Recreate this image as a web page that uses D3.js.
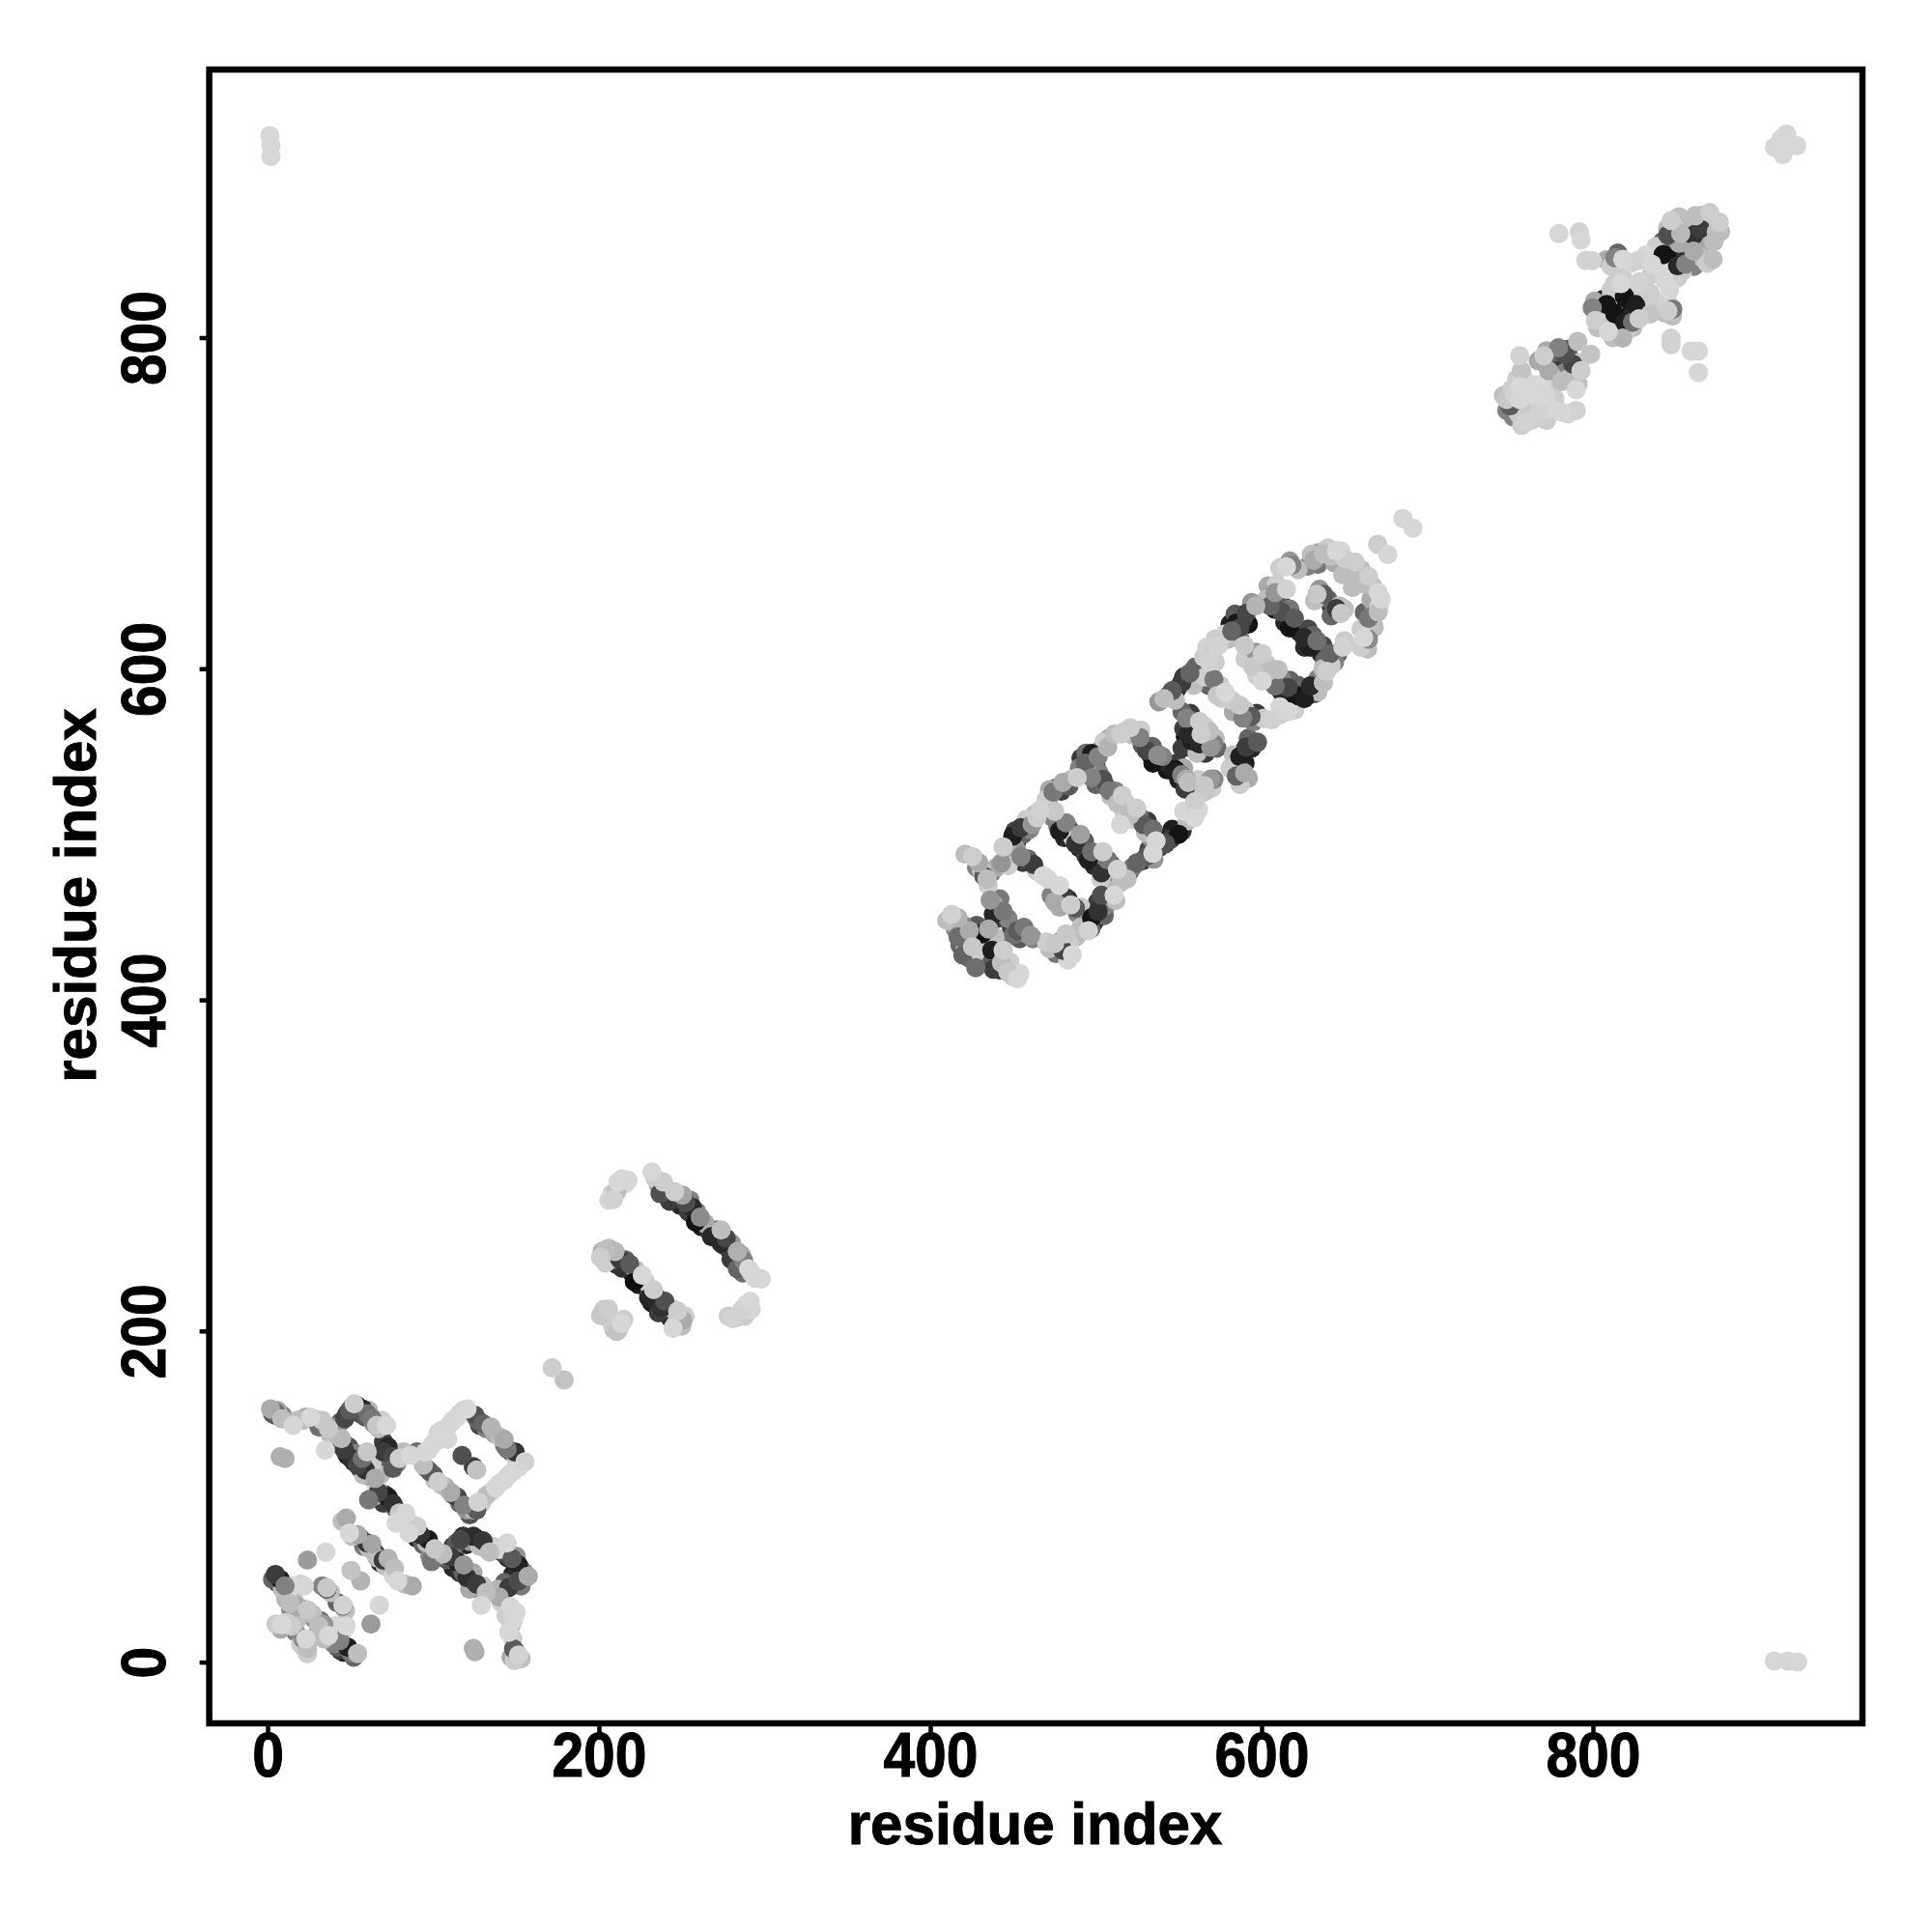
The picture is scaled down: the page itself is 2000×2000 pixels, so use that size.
<!DOCTYPE html>
<html><head><meta charset="utf-8">
<script src="https://cdnjs.cloudflare.com/ajax/libs/d3/7.8.5/d3.min.js"></script>
<style>html,body{margin:0;background:#fff}svg{display:block}</style></head>
<body><div id="chart"></div>
<script>
const xTicks=[0,200,400,600,800], yTicks=[0,200,400,600,800];
const xLabel="residue index", yLabel="residue index";
// rows: residue i, residue j, gray level
const clusterA=[[1.8,153,170],[4.7,151,110],[8.6,147,190],[15.4,143,215],[21.2,146,190],[26,148,215],[33,146,200],[31,142,110],[36.8,141,200],[34.8,128,215],[7.6,124,175],[10.5,123,175],
[46.5,147,70],[49.4,152,90],[52.3,156,205],[57.2,153,40],[60.1,150,110],[63,147,120],[71.8,143,215],[65.9,143,200],[44.6,135,185],[46.5,128,60],[50.4,123,45],[54.3,119,70],[59.1,116,50],[65,111,170],[60.1,127,200],[57.2,123,110],
[72.7,130,40],[69.8,127,60],[75.6,124,70],[75.6,117,90],[79.5,123,205],[86.3,125,215],[90.2,127,110],
[61,98,120],[66.9,102.5,70],[72.7,99.6,25],[75.6,95.7,50],[83.4,90,215],[79.5,90,200],[77.6,84,215],[90.2,82,205],[85.4,78,215],[92.2,77,50],[97,74,25],[100.9,68.4,200],[99,60.7,120],[105.8,65.5,190],
[116.5,74,70],[124.2,76,45],[130,73.3,55],[134,66.5,190],[144.6,72,215],[110.6,63.6,60],[114.5,60.7,30],[118.4,58.7,150],[120.4,51,50],[126.2,47,60],[132,42,190],[129,34.4,215],
[147.6,62.6,90],[151.4,58.7,35],[157.3,51.9,170],[145.6,45,60],[151.4,49,75],[139.8,39.3,170],[146.6,33.4,215],[148.5,25.6,215],[145.6,18,215],[151.4,4.3,210],[148.5,8,90],[124.2,8.2,175],[125.2,6.2,175],
[120.4,153,215],[114.5,148,215],[108.7,142,215],[102.9,138.5,215],[108.7,134.6,215],[99,130.7,215],[95.1,126.8,215],[125.2,149,80],[130,144,100],[134.9,142,180],[142.7,134.6,170],[144.6,128.7,120],[149.5,126.8,50],[155.3,121,210],[145.6,113,215],[137.8,105.4,215],[132,100.5,190],[126.2,91.8,90],[127,96.6,210],[117.4,124.8,80],[126.2,116,195],[124.2,118,60],
[98,115,90],[102.9,109,205],[110.6,102.5,170],[114.5,99.6,70],[118.4,94.7,130],[94,119,190],
[47.5,87,170],[49.4,78,215],[54.3,77,170],[60.1,72,50],[63,71.4,165],[69.8,61.6,60],[72.7,62.6,180],[76.6,56.8,190],[78.6,49,215],[87.3,46,170],
[24.1,61.6,155],[35.2,66.5,215],[50.4,55.4,195],[56.2,49,180],[67.5,34.4,215],[62.4,23,155],
[4.7,52.9,60],[7.6,50,30],[10.5,46,130],[22.2,46,215],[35.8,44,100],[35.8,45,200],[45.5,33.9,90],[45.5,34.4,210],[13.5,35.4,190],[18.3,33.4,170],[24.1,31.5,200],[8.6,22.7,215],[14.4,21.8,205],[24.1,8.2,190],[21.2,14,140],[23.2,14,215],[33.9,22.7,150],[31,21.8,190],[36.8,16,215],[47.5,21.8,215],[43.6,13,130],[48.4,9,30],[54.3,5.2,190]];
const underA=[[3,150,90],[5,149,60],[6,152,170],[9,149,130],[18,146,190],[23,148,170],[28,147,200],[30,145,150],[35,143,170],[38,137,190],[42,142,150],[44,145,100],[48,150,60],[51,154,150],[54,155,50],[56,150,70],[59,148,90],[61,152,180],[64,144,150],[67,141,190],[69,146,205],
[44,131,110],[46,132,70],[48,125,30],[49,130,80],[52,121,40],[53,126,130],[56,117,30],[57,120,90],[58,113,190],[61,118,100],[62,112,150],[63,120,205],[66,106,205],[68,113,190],
[70,133,60],[72,126,40],[74,128,90],[76,121,60],[78,120,130],[73,121,100],[82,127,190],
[64,100,170],[68,98,40],[70,96,60],[71,101,60],[74,97,30],[77,93,110],[80,87,190],[82,84,205],[86,84,215],[88,80,190],[90,75,40],[93,74,60],[94,71,100],[96,72,190],[102,64,190],[98,64,130],
[112,70,60],[114,72,90],[118,76,50],[120,71,40],[122,73,150],[127,74,30],[128,70,190],[132,69,100],[136,70,205],[140,68,215],
[108,62,90],[112,57,40],[113,63,120],[116,54,50],[118,54,100],[123,48,30],[124,54,170],[122,44,170],[128,44,130],[130,46,190],
[142,66,70],[145,63,50],[149,60,40],[150,64,150],[153,56,60],[155,54,130],[148,53,40],[143,48,100],[147,47,70],[153,46,120],[139,44,180],[141,36,205],[144,28,205],[147,22,190],[150,30,215],[148,14,205],[150,6,130],[153,2,190],[147,3,170],[149,1,205],
[118,152,210],[116,150,210],[111,145,215],[105,140,215],[106,136,205],[101,133,205],[97,128,205],[112,146,205],[127,146,100],[128,143,70],[132,141,130],[137,138,170],[140,136,190],[143,131,120],[147,127,70],[150,123,205],[152,118,215],[148,115,215],[143,110,215],[140,108,215],[135,103,215],[129,96,205],[124,92,190],
[96,117,130],[100,113,80],[101,110,190],[105,107,190],[107,106,170],[112,101,100],[116,96,100],[120,92,150],[122,89,80],
[51,76,190],[56,75,120],[58,72,30],[58,70,120],[61,69,190],[65,66,60],[66,63,190],[68,60,40],[71,58,190],[74,57,190],[76,52,215],[83,47,190],[45,85,190],
[3,50,100],[6,48,60],[9,44,190],[12,42,130],[15,46,215],[20,47,205],[33,46,130],[38,42,190],[42,36,100],[47,31,190],[11,38,180],[14,32,130],[16,37,190],[19,28,170],[21,32,130],[27,29,190],[5,23,205],[8,20,170],[11,24,205],[17,18,130],[17,24,190],[22,9,170],[24,5,205],[20,11,205],[28,26,150],[30,17,130],[32,25,120],[34,14,190],[38,19,205],[40,11,130],[42,9,90],[44,7,60],[46,6,30],[50,6,120],[52,3,100],[41,22,215],[45,18,215]];
const clusterB=[[171.8,177.7,205],[179,170.5,195],[217.5,291,215],[211.6,290,215],[208.7,279.4,210],[210.7,284,190],
[232,296,215],[238.9,290,205],[236.9,283,80],[245.7,284,205],[242.7,278.4,60],[250.5,282,165],[252.5,277.5,75],[256.4,274.6,40],[261.2,268.7,140],[258.3,265.8,20],[273.8,261,190],[268,257,40],[276.8,256,70],[273.8,253,40],[283.6,248,175],[279.7,243.4,60],[287.4,242.5,130],[290.4,237.6,215],[283.6,237.6,100],[294.3,231.8,215],[298,231.4,215],
[203.9,249,190],[201,244.4,205],[209.7,248,185],[212.6,243.4,60],[218.5,240.5,90],[221.4,229.8,15],[226.2,233.7,215],[233,225,205],[230,220,40],[239.8,218,80],[237.9,214,50],[247.6,212,205],[244.7,201.6,215],[250.5,206.5,170],
[205.8,213.3,205],[201,209.4,200],[210.7,199.7,195],[213.6,204.5,215],[291.3,218,215],[286.5,213,210],[280.6,207.5,210]];
const underB=[[234,292,205],[236,288,170],[240,286,100],[243,282,170],[247,280,60],[249,276,40],[254,272,60],[255,279,130],[259,272,130],[262,263,30],[264,265,170],[266,261,50],[270,258,40],[271,261,120],[275,252,40],[278,250,60],[280,253,150],[281,247,90],[285,241,50],[286,246,170],[288,239,170],[287,235,110],[292,235,205],
[214,292,215],[212,287,215],[208,283,205],[206,279,215],[216,289,215],
[202,248,170],[206,250,190],[204,241,205],[208,243,120],[211,240,40],[214,238,50],[216,243,100],[220,235,40],[222,237,190],[224,228,30],[228,230,205],[231,223,190],[232,217,30],[235,220,70],[236,211,60],[240,214,90],[243,208,40],[245,213,205],[248,205,120],[246,204,190],[250,203,190],[252,209,205],
[203,213,205],[204,209,190],[208,204,205],[209,201,190],[215,207,205],[212,201,205],[283,208,205],[289,216,215],[288,209,205],[292,213,215],[278,209,205]];
const clusterC=[[412.9,451.6,210],[416.8,449.6,180],[416.8,438,110],[419.7,427,100],[427.5,419.5,110],[431.3,439.9,15],[435.2,442.8,170],[423.6,441.8,170],[425.5,432,200],
[436.2,460.3,150],[444,453.5,120],[438.1,451.6,40],[460.5,438.9,150],[452.7,441.8,90],[456.6,443.8,120],[444,430,205],[437.2,430,30],[438.1,418.5,60],[446.9,416.6,200],[452.7,412.7,215],[443,422.4,190],
[425.5,486.6,205],[429.4,482.7,170],[434.3,473,190],[432.3,474.9,90],[443,482.7,150],[444,492.4,205],[449.8,499,30],[454.7,504,60],[461.5,506,150],[464.4,510,205],[466.3,514.8,210],
[454.7,486.6,130],[462.4,481.7,60],[468.3,474.9,215],[478,469,215],[480.9,462.3,60],[475.1,459.3,170],[487.7,455.4,90],[484.8,457.4,205],
[475.1,434,200],[485.8,427.2,215],[481.9,439.9,200],[480,430,70],[495.5,441.8,210],[497.4,449.6,20],[501.3,453.5,50],[503.3,463.2,80],[511,463.2,215],[514.9,471,190],[518.8,473,190],[524.6,482.7,100],[530.5,486.6,90],[534.4,488.5,215],[542.1,494.3,80],[549.9,500,20],[559.6,510,215],[559.6,519.6,205],[569.3,533.3,150],[565.4,525.5,200],
[475.1,513.8,200],[481.9,507,130],[478,502,30],[490.6,500,160],[487.7,494.3,50],[497.4,489.5,110],[495.5,484.6,30],[504.2,489.5,205],[507.1,484.6,120],[513,478.8,210],[503.3,476.8,50],
[474.1,525.5,120],[483.8,529.3,90],[480,531.3,170],[488.7,534.2,205],[493.5,543,100],[497.4,548.8,30],[501.3,546.9,130],[507.1,552.7,180],[511,560.5,190],[514.9,560.5,205],[520.8,564.4,205],
[497.4,534.2,130],[504.2,533.2,80],[508.1,526.4,120],[515.9,523.5,205],[513,518.7,190],[524.6,515.7,205],[520.8,511.8,190],[514.9,506,215],[528.5,506,90],[534.4,503,110],[536.3,496,215],
[530.5,550.7,70],[537.3,547.8,140],[534.4,543,20],[547,538,30],[551.8,536,130],[555.7,531.3,190],[553.8,527.4,60],[526.6,558.5,130],[569.3,552.7,150],[557.7,556.6,30],[563.5,560.5,205]];
const underC=[[410,448,190],[414,446,170],[415,443,130],[418,433,100],[420,445,130],[422,436,170],[424,425,110],[421,431,190],[428,445,90],[429,437,30],[433,443,40],[430,434,190],[427,428,205],
[438,458,170],[441,456,120],[440,449,60],[442,461,120],[447,449,130],[449,444,60],[454,437,90],[458,440,140],[462,437,130],[450,439,110],
[440,433,70],[441,426,170],[436,424,90],[442,418,60],[445,420,170],[448,423,205],[450,414,205],[454,416,215],[439,438,190],
[421,488,190],[428,480,130],[431,478,205],[435,469,205],[437,477,120],[440,480,170],[446,486,60],[447,490,170],[451,502,70],[452,495,30],[456,500,100],[457,506,190],[460,503,130],[463,512,190],[458,509,205],
[447,481,205],[452,491,150],[456,483,60],[459,485,100],[464,478,205],[471,473,215],[473,463,130],[477,464,60],[478,456,170],[483,461,40],[489,452,130],[491,456,205],
[470,435,205],[472,431,190],[476,428,120],[478,435,130],[483,424,215],[484,434,205],[488,438,190],[491,444,190],[493,451,30],[499,447,50],[497,443,100],[501,459,60],[505,451,100],[507,466,190],[506,457,130],[510,468,130],[512,460,190],[516,475,100],[520,477,70],[522,480,120],[528,484,60],[532,491,70],[535,485,150],[538,492,60],[540,498,40],[545,497,60],[546,503,30],[552,502,50],[555,508,190],[553,514,215],[562,515,215],[564,531,190],[567,530,100],[561,524,190],
[472,517,170],[474,510,130],[477,505,100],[481,498,40],[484,503,70],[486,498,205],[490,492,40],[493,496,90],[494,487,60],[499,481,40],[502,486,150],[506,479,160],[509,482,80],[503,473,205],
[470,521,205],[472,527,170],[476,528,100],[479,526,60],[485,533,190],[490,540,130],[491,546,60],[494,549,110],[500,542,70],[503,551,100],[505,556,205],[508,558,150],[517,562,205],[522,560,190],[527,563,205],
[495,537,170],[500,530,100],[502,537,130],[506,529,60],[509,523,190],[512,526,130],[518,519,205],[517,513,205],[522,509,205],[526,511,110],[531,508,60],[533,498,150],[530,501,190],
[528,554,90],[533,548,30],[534,553,100],[541,544,40],[543,539,20],[548,542,60],[550,533,30],[553,540,170],[557,529,190],
[554,559,20],[552,552,60],[560,555,120],[565,556,190],[561,549,190]];
const clusterD=[[685.3,690.8,215],[691.4,684.9,215],[670,675.2,205],[676.2,669,215],[615,661.6,215],[618.3,662.6,130],[631.5,665.5,170],[637.3,669.4,190],[645.1,671.3,215],[650,666.5,205],[656.4,664.5,205],[649,656.7,190],[664.5,655.8,205],[654.8,649,190],[670.4,646,215],[672.3,642,215],[670.4,634.4,190],[664.5,630.5,120],[661.6,618.8,215],[664.5,617.8,140],
[633.4,645,200],[637.3,645,90],[645.1,636.3,60],[648,633.4,200],[608.2,646,150],[615,648,210],[605.3,638,100],[612,634.4,80],[619.8,630.5,90],[616.9,624.7,20],[625.7,618.8,40],[633.4,616.9,110],[629.5,613,30],[641.2,609,100],[649,613,210],
[596.5,638,180],[590.7,633.4,70],[584.8,627.6,25],[586.8,624.7,70],[582,622.7,100],[574,614,210],[570.3,609,205],[568.3,604.2,210],[589.7,614,200],[596.5,610,150],[600.4,609,205],[594.6,601.3,200],[604.3,598.4,190],[610,599.4,190],[600.4,592.6,215],[608.2,589.6,110],[616,588.7,70],[620.8,583.8,20],[629.5,589.6,40],[625.7,581.9,30],[639.3,598.4,205],[637.3,591.6,190],[616,574,215],[606.2,569.2,210],
[556.7,597.4,100],[551.8,591.6,60],[546,586.7,90],[541.1,581.9,190],[571.2,593.5,120],[578,585.8,215],[573.2,583.8,200],[586.8,578,200],[593.6,571.2,90],[588.7,570.2,130],[554.7,570.2,130],[562.5,568.2,205],[568.3,562.4,190],[555.7,560.5,40],[571.2,554.6,130],[562.5,554.6,40],[597.5,555.6,90],[590.7,552.7,60],[586.8,546.9,30],[589.7,537,170],[584.8,535.2,100],[540.1,546.9,130],[547.9,539,20],[554.7,533.3,170],[571.2,533.3,130],[565.4,529.4,200]];
const underD=[[617,665,150],[611,661,205],[622,660,190],[628,662,130],[630,669,190],[634,670,170],[634,663,120],[640,673,205],[642,668,190],[644,664,170],[648,671,215],[652,660,190],[660,660,190],[658,654,190],[662,651,190],[667,650,190],[671,638,215],[668,637,140],[666,642,170],[662,634,100],[667,630,190],[668,625,190],[660,624,205],[660,613,205],[664,612,190],
[632,641,190],[635,648,150],[640,642,100],[642,638,40],[642,632,100],[647,638,190],[650,636,190],
[609,651,205],[604,650,170],[603,642,190],[608,636,30],[610,641,90],[614,637,60],[617,636,120],[614,628,40],[620,626,30],[623,622,40],[628,624,70],[631,620,100],[626,613,40],[637,614,70],[636,609,40],[638,605,100],[644,604,130],[646,609,100],[650,617,205],
[594,640,150],[592,627,20],[589,630,60],[586,630,40],[584,633,90],[581,627,30],[580,618,190],[578,621,205],[572,618,205],[567,613,210],[565,607,205],[572,604,205],
[587,618,130],[592,610,170],[598,604,190],[590,606,205],[603,603,200],[605,592,190],[597,596,205],[607,595,170],[612,594,130],[612,586,40],[617,593,100],[622,590,100],[618,580,30],[624,587,60],[628,584,20],[632,585,70],[634,594,130],[634,586,190],[637,600,190],[642,602,205],[620,575,205],[611,572,205],[601,570,205],[611,577,215],
[560,601,100],[553,595,60],[549,588,40],[544,584,60],[538,580,150],[548,581,190],[559,590,190],[566,595,205],
[568,590,100],[569,598,120],[575,590,205],[576,582,205],[582,581,205],[583,574,170],[590,575,205],[595,568,130],[597,573,60],
[552,574,100],[557,573,60],[557,566,130],[560,562,205],[553,564,60],[566,565,205],[572,558,190],[573,552,100],[558,552,20],[566,549,60],
[592,558,100],[594,552,40],[589,550,30],[583,548,190],[586,541,170],[590,543,30],[592,534,170],[587,530,205],[581,540,205],
[538,548,100],[543,543,30],[549,543,60],[551,536,120],[557,530,190],[568,531,120],[570,528,205],[562,533,205]];
const clusterE=[[750,758.8,90],[748,762.7,200],[755.8,789,210],[756.8,780,195],[755.8,770.5,215],[764.6,771.5,215],[771.4,764.7,215],[761.7,753,200],[759.7,749,210],[767.5,755,210],[781,755,215],[789.9,756,210],[755.8,762.7,215],[752.9,765.6,210],
[770.4,789,205],[783,790,80],[779.2,793.9,130],[790.8,797.7,190],[798.6,790,195],[773.3,780,170],[781,773.4,190],[792.8,780,205],[787.9,784,70],[789.9,768.6,215],
[779.5,862.9,215],[791.8,863.9,210],[792.8,859,215],[795.7,846.7,210],[799.6,846.4,210],[813.2,848.3,130],[818,847.3,215],[826.8,846.4,210],
[799.6,818,130],[801.5,810.4,205],[808.3,820,20],[813.2,814.3,20],[809.3,803.6,215],[818,799.7,180],[819,809.4,30],[823.9,809.4,110],[834.6,814.3,195],[827.8,811.4,205],[817,832.7,215],[813.2,832.7,205],[819,825,20],[827.8,833.7,210],[834.6,826.9,205],[825.8,820,30],
[835.5,844.4,215],[842.4,850.2,20],[847.2,870.7,205],[845.2,861.9,80],[853,862.9,185],[851.1,843.4,40],[860.8,852.2,170],[872.5,847.3,190],[856,844.4,130],[843.3,834.7,215],[846.2,828.9,215],[848.2,817.2,120],[845.2,816.2,205],[847.2,799.7,210],[847.2,795.8,210],[859.2,791.9,215],[863.7,791.9,215],[863.7,778.9,215],
[861.8,873.6,190],[870.5,875.5,205],[876.3,869.7,205],[864.7,865.8,60],[874.4,863.9,190],[860.8,861.9,50]];
const underE=[[746,765,190],[748,756,130],[752,752,130],[755,754,200],[757,757,205],[753,760,100],[757,747,205],[751,769,205],[754,775,205],[758,776,215],[760,766,215],[762,759,205],[765,765,215],[769,772,215],[774,768,205],[774,757,215],[777,763,205],[785,754,215],[763,750,205],[772,750,205],
[767,786,170],[772,792,170],[776,791,100],[781,786,60],[778,786,40],[785,793,90],[786,787,30],[790,785,100],[783,779,130],[778,773,100],[775,777,190],[785,775,190],[789,777,130],[791,772,190],[792,785,205],
[801,822,170],[804,817,70],[806,823,30],[806,812,205],[803,806,190],[811,818,15],[816,810,20],[814,806,205],[820,804,205],[818,803,100],[812,800,190],[824,806,190],[829,816,190],[832,820,190],[811,825,170],[811,829,205],[815,826,15],[821,823,20],[818,836,205],[820,830,215],[826,830,205],[830,828,205],[836,821,205],[823,815,25],[822,812,40],
[808,847,170],[811,843,205],[815,851,100],[816,841,205],[823,845,210],[832,850,215],[835,838,205],[838,855,205],[840,852,40],[838,846,205],[842,840,215],[844,847,20],[842,858,100],[847,852,10],[850,847,20],[852,857,170],[856,850,50],[854,840,205],[851,836,205],[861,843,130],[866,848,190],[869,845,205],[845,866,190],[849,867,205],[852,873,190],[845,841,205],
[860,870,190],[863,862,40],[866,874,190],[868,862,150],[872,870,190],[877,864,190],[873,858,190],[866,857,170],[845,823,210],[848,813,190],[843,815,190]];
const clusterCorners=[[1.4,922,215],[2,916,215],[2,909.4,215],[909.5,915,215],[914.7,910.5,215],[916.9,923,215],[913.5,920,215],[923,916,215],[909.5,0.7,215],[917.6,0.7,215],[923.6,0,215]];

const toRows=list=>list.map(([i,j,g])=>({i,j,g})).sort((a,b)=>a.g-b.g);
const contacts=[...toRows([...underA,...underB,...underC,...underD,...underE]),
  ...toRows([...clusterA,...clusterB,...clusterC,...clusterD,...clusterE,...clusterCorners])];

const W=2000,H=2000,plot={l:216.6,r:1928,t:72,b:1784};
const font="'Liberation Sans', Arial, sans-serif";
const svg=d3.select("#chart").append("svg").attr("width",W).attr("height",H).style("background","#fff");
const x=d3.scaleLinear().domain([0,800]).range([277,1649]);
const y=d3.scaleLinear().domain([0,800]).range([1720.6,349.5]);

svg.append("g").selectAll("circle").data(contacts).join("circle")
  .attr("cx",d=>x(d.i)).attr("cy",d=>y(d.j)).attr("r",10)
  .attr("fill",d=>d3.rgb(d.g,d.g,d.g));

svg.append("rect").attr("x",plot.l).attr("y",plot.t).attr("width",plot.r-plot.l).attr("height",plot.b-plot.t)
  .attr("fill","none").attr("stroke","#000").attr("stroke-width",6.5);

const ax=svg.append("g").attr("transform",`translate(0,${plot.b})`)
  .call(d3.axisBottom(x).tickValues(xTicks).tickSize(10).tickFormat(d3.format("d")));
const ay=svg.append("g").attr("transform",`translate(${plot.l},0)`)
  .call(d3.axisLeft(y).tickValues(yTicks).tickSize(10).tickFormat(d3.format("d")));
[ax,ay].forEach(g=>{g.select(".domain").remove();
  g.selectAll("line").attr("stroke","#000").attr("stroke-width",4.5);
  g.selectAll("text").attr("fill","#000").attr("stroke","#000").attr("stroke-width",1).attr("x",0).attr("y",0).attr("dy",0).attr("text-anchor","middle")
    .style("font-family",font).style("font-weight","700").style("font-size","64px");});
ax.selectAll("text").attr("transform",`translate(0,${1839-plot.b}) scale(0.92,1)`);
ay.selectAll("text").attr("transform",`translate(${171-plot.l},0) rotate(-90) scale(0.92,1)`);

svg.append("text").attr("transform","translate(1071.5,1909) scale(0.97,1)").attr("text-anchor","middle")
  .attr("stroke","#000").attr("stroke-width",1)
  .style("font-family",font).style("font-weight","700").style("font-size","62px").text(xLabel);
svg.append("text").attr("transform","translate(99,927) rotate(-90) scale(0.97,1)").attr("text-anchor","middle")
  .attr("stroke","#000").attr("stroke-width",1)
  .style("font-family",font).style("font-weight","700").style("font-size","62px").text(yLabel);
</script></body></html>
